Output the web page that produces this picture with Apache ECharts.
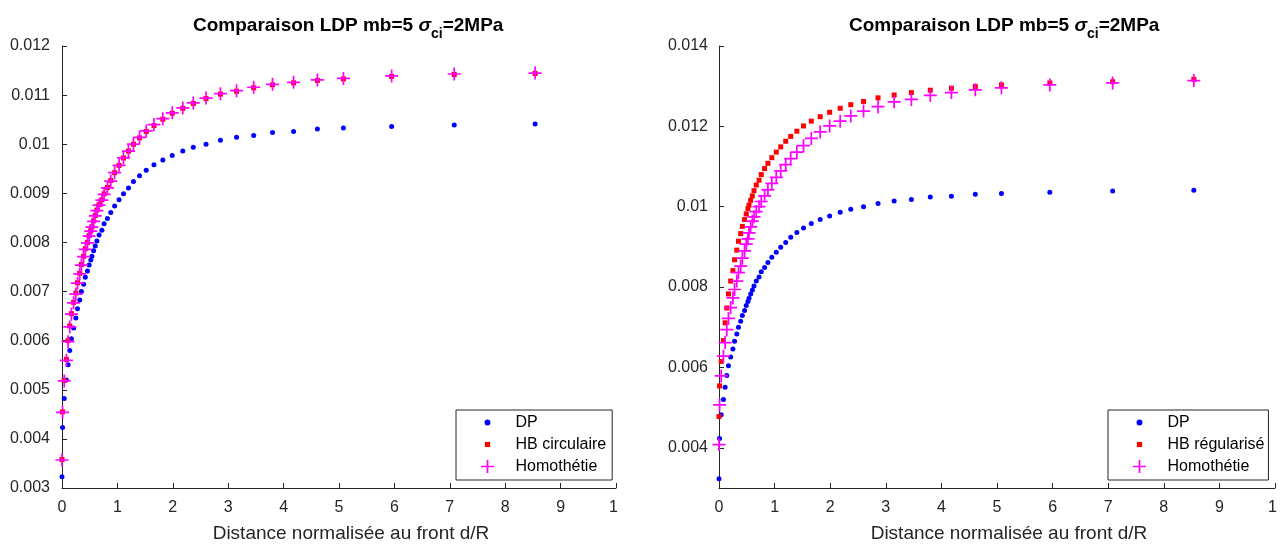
<!DOCTYPE html>
<html>
<head>
<meta charset="utf-8">
<script src="https://cdn.jsdelivr.net/npm/echarts@6/dist/echarts.min.js"></script>
<style>
html,body{margin:0;padding:0;background:#fff;}
#chart{width:1285px;height:548px;}
</style>
</head>
<body>
<div id="chart"></div>
<script>
// ---- data ----
const xDist = [0, 0.01, 0.04, 0.08, 0.11, 0.14, 0.17, 0.21, 0.25, 0.28, 0.32, 0.35, 0.39, 0.42, 0.46, 0.49, 0.52, 0.54, 0.57, 0.60, 0.63, 0.67, 0.72, 0.76, 0.82, 0.88, 0.95, 1.03, 1.11, 1.20, 1.29, 1.40, 1.52, 1.66, 1.82, 1.99, 2.18, 2.37, 2.60, 2.86, 3.15, 3.46, 3.80, 4.18, 4.61, 5.08, 5.95, 7.08, 8.54];
const dpVals = [0.00323, 0.00423, 0.00482, 0.00520, 0.00551, 0.00580, 0.00604, 0.00626, 0.00646, 0.00665, 0.00683, 0.00700, 0.00715, 0.00729, 0.00742, 0.00754, 0.00764, 0.00772, 0.00783, 0.00793, 0.00803, 0.00815, 0.00825, 0.00838, 0.00849, 0.00861, 0.00874, 0.00887, 0.00899, 0.00911, 0.00924, 0.00936, 0.00947, 0.00958, 0.00968, 0.00977, 0.00986, 0.00994, 0.01000, 0.01008, 0.01014, 0.01018, 0.01024, 0.01026, 0.01031, 0.01033, 0.01036, 0.01039, 0.01041];
const hbCircVals = [0.00358, 0.00455, 0.00519, 0.00562, 0.00600, 0.00630, 0.00655, 0.00678, 0.00697, 0.00718, 0.00737, 0.00755, 0.00772, 0.00787, 0.00800, 0.00814, 0.00824, 0.00832, 0.00844, 0.00855, 0.00866, 0.00877, 0.00887, 0.00899, 0.00912, 0.00926, 0.00942, 0.00957, 0.00972, 0.00986, 0.01000, 0.01013, 0.01026, 0.01038, 0.01051, 0.01063, 0.01073, 0.01083, 0.01093, 0.01102, 0.01108, 0.01115, 0.01121, 0.01125, 0.01130, 0.01133, 0.01138, 0.01142, 0.01144];
const homLeftVals = [0.00357, 0.00454, 0.00518, 0.00560, 0.00598, 0.00628, 0.00654, 0.00677, 0.00695, 0.00717, 0.00736, 0.00754, 0.00771, 0.00786, 0.00799, 0.00813, 0.00823, 0.00831, 0.00843, 0.00854, 0.00865, 0.00876, 0.00886, 0.00898, 0.00911, 0.00925, 0.00942, 0.00957, 0.00972, 0.00986, 0.01000, 0.01014, 0.01027, 0.01040, 0.01052, 0.01064, 0.01074, 0.01084, 0.01094, 0.01103, 0.01109, 0.01116, 0.01122, 0.01126, 0.01131, 0.01134, 0.01139, 0.01143, 0.01145];
const hbRegVals = [0.00478, 0.00554, 0.00615, 0.00667, 0.00711, 0.00748, 0.00783, 0.00815, 0.00841, 0.00868, 0.00892, 0.00914, 0.00933, 0.00951, 0.00968, 0.00982, 0.00995, 0.01004, 0.01016, 0.01027, 0.01040, 0.01054, 0.01066, 0.01080, 0.01095, 0.01108, 0.01122, 0.01136, 0.01149, 0.01163, 0.01175, 0.01188, 0.01201, 0.01213, 0.01224, 0.01235, 0.01245, 0.01254, 0.01262, 0.01271, 0.01278, 0.01284, 0.01290, 0.01295, 0.01299, 0.01303, 0.01308, 0.01311, 0.01317];
const homRightVals = [0.00408, 0.00507, 0.00579, 0.00628, 0.00662, 0.00694, 0.00722, 0.00749, 0.00773, 0.00794, 0.00815, 0.00836, 0.00852, 0.00872, 0.00890, 0.00907, 0.00920, 0.00935, 0.00950, 0.00964, 0.00975, 0.00988, 0.01000, 0.01013, 0.01027, 0.01042, 0.01058, 0.01073, 0.01089, 0.01105, 0.01120, 0.01136, 0.01152, 0.01170, 0.01186, 0.01201, 0.01213, 0.01226, 0.01238, 0.01249, 0.01261, 0.01267, 0.01277, 0.01284, 0.01291, 0.01296, 0.01303, 0.01308, 0.01314];
const yTicksRight = [0.004, 0.006, 0.008, 0.010, 0.012, 0.014];
const seriesNames = { dp: 'DP', hbc: 'HB circulaire', hbr: 'HB régularisé', hom: 'Homothétie' };
const xAxisTitle = 'Distance normalisée au front d/R';

// ---- styling ----
const AX = '#262626';
const FONT = '"Liberation Sans", Arial, Helvetica, sans-serif';
const PLUS = 'path://M0,5.2H12V6.8H0Z M5.2,0H6.8V12H5.2Z';
const DOT_ICON = 'path://M0,0M12,12M6,3.3A2.7,2.7,0,1,1,6,8.7A2.7,2.7,0,1,1,6,3.3Z';
const SQ_ICON = 'path://M0,0M12,12M3.6,3.6H8.4V8.4H3.6Z';

const pair = arr => xDist.map((x, i) => [x, arr[i]]);
const fmtY = v => parseFloat(Number(v).toFixed(6)).toString();
const fmtX = v => (v === 10 ? '{c|1}' : String(v));

const titleRich = {
  b: { fontFamily: FONT, fontWeight: 'bold', fontSize: 19, color: '#000', lineHeight: 30, verticalAlign: 'middle' },
  s: { fontFamily: FONT, fontStyle: 'italic', fontSize: 19, color: '#000', lineHeight: 30, verticalAlign: 'middle' },
  sub: { fontFamily: FONT, fontWeight: 'bold', fontSize: 14, color: '#000', lineHeight: 15, verticalAlign: 'bottom' }
};
const titleText = '{b|Comparaison LDP mb=5 }{s|σ}{sub|ci}{b|=2MPa}';

function xAxisCfg(gridIndex) {
  return {
    gridIndex, type: 'value', min: 0, max: 10, interval: 1,
    name: xAxisTitle, nameLocation: 'middle', nameGap: 36,
    nameTextStyle: { fontFamily: FONT, fontSize: 19, color: AX, padding: [0, 0, 0, 24] },
    axisLine: { show: true, onZero: false, lineStyle: { color: AX, width: 1 } },
    axisTick: { show: true, inside: true, length: 5, lineStyle: { color: AX } },
    axisLabel: { fontFamily: FONT, fontSize: 16, color: AX, margin: 12, formatter: fmtX,
      rich: { c: { fontFamily: FONT, fontSize: 16, color: AX, padding: [0, 5, 0, 0] } } },
    splitLine: { show: false }
  };
}

function legendCfg(left, names, padRight) {
  return {
    orient: 'vertical', left: left, top: 410,
    data: [
      { name: names[0], icon: DOT_ICON },
      { name: names[1], icon: SQ_ICON },
      { name: names[2], icon: PLUS }
    ],
    itemWidth: 46, itemHeight: 13, itemGap: 5,
    padding: [4, padRight, 5, 25],
    backgroundColor: '#fff', borderColor: AX, borderWidth: 1, borderRadius: 0,
    textStyle: { fontFamily: FONT, fontSize: 16, color: '#000', lineHeight: 17 },
    selectedMode: false
  };
}

const option = {
  animation: false,
  backgroundColor: '#ffffff',
  title: [
    { left: 188, top: 6, text: titleText, textStyle: { rich: titleRich } },
    { left: 844, top: 6, text: titleText, textStyle: { rich: titleRich } }
  ],
  grid: [
    { left: 62, top: 46, width: 554, height: 447, containLabel: false },
    { left: 719, top: 46, width: 556, height: 446, containLabel: false }
  ],
  xAxis: [xAxisCfg(0), xAxisCfg(1)],
  yAxis: [
    {
      gridIndex: 0, type: 'value', min: 0.003, max: 0.012, interval: 0.001,
      axisLine: { show: true, onZero: false, lineStyle: { color: AX, width: 1 } },
      axisTick: { show: true, inside: true, length: 5, lineStyle: { color: AX } },
      axisLabel: { fontFamily: FONT, fontSize: 16, color: AX, margin: 12, formatter: fmtY },
      splitLine: { show: false }
    },
    {
      gridIndex: 1, type: 'value', min: 0.003, max: 0.014, interval: 0.001,
      axisLine: { show: true, onZero: false, lineStyle: { color: AX, width: 1 } },
      axisTick: { show: true, inside: true, length: 5, lineStyle: { color: AX }, customValues: yTicksRight },
      axisLabel: { fontFamily: FONT, fontSize: 16, color: AX, margin: 11, formatter: fmtY, customValues: yTicksRight },
      splitLine: { show: false }
    }
  ],
  legend: [
    legendCfg(456, [seriesNames.dp, seriesNames.hbc, seriesNames.hom], 6),
    legendCfg(1108, [seriesNames.dp, seriesNames.hbr, seriesNames.hom], 4)
  ],
  series: [
    { name: seriesNames.dp, type: 'scatter', xAxisIndex: 0, yAxisIndex: 0, symbol: 'circle', symbolSize: 5,
      itemStyle: { color: '#0000ff', opacity: 1 }, data: pair(dpVals) },
    { name: seriesNames.hbc, type: 'scatter', xAxisIndex: 0, yAxisIndex: 0, symbol: 'rect', symbolSize: 5,
      itemStyle: { color: '#ff0000', opacity: 1 }, data: pair(hbCircVals) },
    { name: seriesNames.hom, type: 'scatter', xAxisIndex: 0, yAxisIndex: 0, symbol: PLUS, symbolSize: 13,
      itemStyle: { color: '#ff00ff', opacity: 1 }, data: pair(homLeftVals) },
    { name: seriesNames.dp, type: 'scatter', xAxisIndex: 1, yAxisIndex: 1, symbol: 'circle', symbolSize: 5,
      itemStyle: { color: '#0000ff', opacity: 1 }, data: pair(dpVals) },
    { name: seriesNames.hbr, type: 'scatter', xAxisIndex: 1, yAxisIndex: 1, symbol: 'rect', symbolSize: 5,
      itemStyle: { color: '#ff0000', opacity: 1 }, data: pair(hbRegVals) },
    { name: seriesNames.hom, type: 'scatter', xAxisIndex: 1, yAxisIndex: 1, symbol: PLUS, symbolSize: 13,
      itemStyle: { color: '#ff00ff', opacity: 1 }, data: pair(homRightVals) }
  ]
};

const chart = echarts.init(document.getElementById('chart'), null, { renderer: 'canvas' });
chart.setOption(option);
</script>
</body>
</html>
